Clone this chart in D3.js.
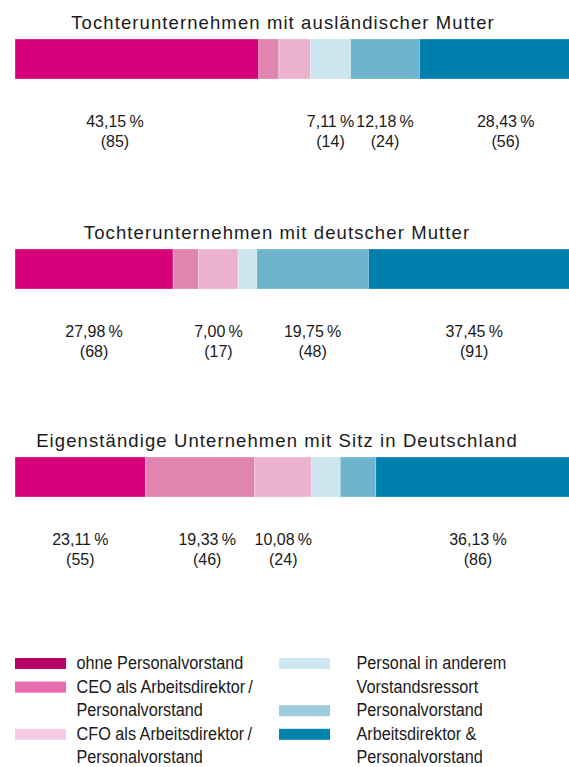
<!DOCTYPE html>
<html>
<head>
<meta charset="utf-8">
<script src="https://cdn.jsdelivr.net/npm/d3@7"></script>
<style>
  html, body { margin: 0; padding: 0; background: #fff; }
  svg { display: block; }
</style>
</head>
<body>
<svg id="chart" width="569" height="767"></svg>
<script>
// ---- data ----
const groupTitles = [
  "Tochterunternehmen mit ausländischer Mutter",
  "Tochterunternehmen mit deutscher Mutter",
  "Eigenständige Unternehmen mit Sitz in Deutschland"
];
const categories = [
  "ohne Personalvorstand",
  "CEO als Arbeitsdirektor / Personalvorstand",
  "CFO als Arbeitsdirektor / Personalvorstand",
  "Personal in anderem Vorstandsressort",
  "Personalvorstand",
  "Arbeitsdirektor & Personalvorstand"
];
const countsAuslaendisch = [85, 7, 11, 14, 24, 56];
const countsDeutsch      = [68, 11, 17, 8, 48, 91];
const countsEigen        = [55, 46, 24, 12, 15, 86];
const legendLines = [
  ["ohne Personalvorstand"],
  ["CEO als Arbeitsdirektor\u2009/", "Personalvorstand"],
  ["CFO als Arbeitsdirektor\u2009/", "Personalvorstand"],
  ["Personal in anderem", "Vorstandsressort"],
  ["Personalvorstand"],
  ["Arbeitsdirektor &", "Personalvorstand"]
];
const barColors    = ["#d5007a", "#e284b0", "#edb2d0", "#cde5ee", "#6db4cb", "#007fad"];
const legendColors = ["#b8006b", "#e86ab0", "#f6cce4", "#cde6ef", "#9bcdde", "#0082aa"];

// ---- layout ----
const svg = d3.select("#chart");
const groupTop = [0, 210, 418];
const barY = 39, barH = 40;
const titleBase = 29, pctBase = 126.5, cntBase = 146.5;
const titleCenters = [283, 277, 277];
const labelNudge = {"0-0": -22, "0-5": 6, "2-1": 7};
const textColor = "#1a1a1a";

const x = d3.scaleLinear().domain([0, 1]).range([15, 580]);
const fmtNum = v => v.toFixed(2).replace(".", ",");

const seriesList = [countsAuslaendisch, countsDeutsch, countsEigen];

seriesList.forEach((counts, gi) => {
  const total = d3.sum(counts);
  let acc = 0;
  const segs = counts.map((c, i) => {
    const s = { i, c, x0: acc / total, x1: (acc + c) / total, pct: 100 * c / total };
    acc += c;
    return s;
  });
  const g = svg.append("g").attr("transform", `translate(0,${groupTop[gi]})`);

  g.append("text")
    .attr("x", titleCenters[gi]).attr("y", titleBase)
    .attr("text-anchor", "middle")
    .attr("font-family", "'Liberation Sans', Arial, sans-serif")
    .attr("font-size", 18.5)
    .attr("letter-spacing", 1.1)
    .attr("fill", textColor)
    .text(groupTitles[gi]);

  g.selectAll("rect.seg").data(segs).join("rect")
    .attr("class", "seg")
    .attr("x", d => x(d.x0)).attr("y", barY)
    .attr("width", d => x(d.x1) - x(d.x0)).attr("height", barH)
    .attr("fill", d => barColors[d.i])
    .attr("stroke", "rgba(255,255,255,0.35)")
    .attr("stroke-width", 0.8);

  const labeled = segs.filter(d => d.pct >= 6.95);
  const lab = g.selectAll("g.lab").data(labeled).join("g")
    .attr("class", "lab")
    .attr("transform", d => {
      const cx = (x(d.x0) + x(d.x1)) / 2 + (labelNudge[gi + "-" + d.i] || 0);
      return `translate(${cx},0)`;
    });
  lab.append("text")
    .attr("y", pctBase).attr("text-anchor", "middle")
    .attr("font-family", "'Liberation Sans', Arial, sans-serif")
    .attr("font-size", 16).attr("fill", textColor)
    .text(d => fmtNum(d.pct) + "\u2009%");
  lab.append("text")
    .attr("y", cntBase).attr("text-anchor", "middle")
    .attr("font-family", "'Liberation Sans', Arial, sans-serif")
    .attr("font-size", 16).attr("fill", textColor)
    .text(d => `(${d.c})`);
});

// ---- legend ----
const legCols = [{ sw: 15, tx: 76.5 }, { sw: 279, tx: 356.5 }];
const legRow0 = 669, legStep = 23.6;
const legendPlacement = [[0, 0], [0, 1], [0, 3], [1, 0], [1, 2], [1, 3]];
const legend = svg.append("g");
const legFont = "'Liberation Sans Narrow', 'Arial Narrow', 'Liberation Sans', Arial, sans-serif";
const legSize = 18.5;

// condensed look: measure a reference line and squeeze horizontally to target width
const probe = legend.append("text")
  .attr("font-family", legFont).attr("font-size", legSize)
  .text("ohne Personalvorstand");
const probeW = probe.node().getComputedTextLength();
probe.remove();
const squeeze = Math.min(1, 167 / probeW);

categories.forEach((cat, i) => {
  const [col, row] = legendPlacement[i];
  const base = legRow0 + row * legStep;
  legend.append("rect")
    .attr("x", legCols[col].sw).attr("y", base - 11)
    .attr("width", 51).attr("height", 11)
    .attr("fill", legendColors[i]);
  legendLines[i].forEach((ln, k) => {
    legend.append("text")
      .attr("class", "legtxt")
      .attr("transform", `translate(${legCols[col].tx},${base + k * legStep}) scale(${squeeze},1)`)
      .attr("font-family", legFont)
      .attr("font-size", legSize)
      .attr("fill", textColor)
      .text(ln);
  });
});
</script>
</body>
</html>
